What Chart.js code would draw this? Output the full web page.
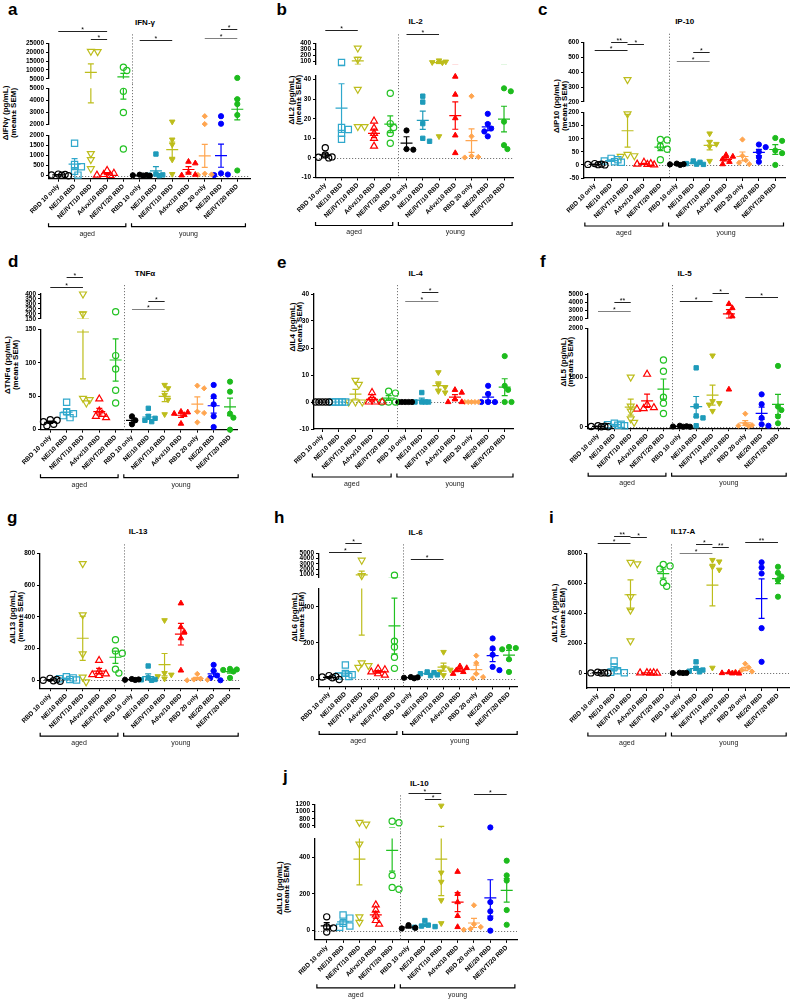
<!DOCTYPE html>
<html><head><meta charset="utf-8">
<script src="https://cdn.jsdelivr.net/npm/chart.js@4.4.1/dist/chart.umd.min.js"></script>
<style>
html,body{margin:0;padding:0;background:#fff;}
#page{position:relative;width:792px;height:1000px;overflow:hidden;background:#fff;font-family:"Liberation Sans",Arial,sans-serif;color:#000;}
#page canvas{position:absolute;}
.lt{position:absolute;font-weight:bold;font-size:17px;line-height:17px;}
.ti{position:absolute;font-weight:bold;font-size:8px;white-space:nowrap;transform:translate(-50%,-50%);}
.yt{position:absolute;font-weight:bold;font-size:8px;white-space:nowrap;transform:translate(-50%,-50%) rotate(-90deg);}
</style></head><body><div id="page"></div>
<script>
// ---------------- DATA ----------------
const categories = ['RBD 10 only','NE/10 RBD','NE/IVT/10 RBD','Advx/10 RBD','NE/IVT/20 RBD','RBD 10 only','NE/10 RBD','NE/IVT/10 RBD','Advx/10 RBD','RBD 20 only','NE/20 RBD','NE/IVT/20 RBD'];
const ageGroups = ['aged','young'];

const ifngValues = [[20,60,0,40,80],[1620,560,450,220,30],[20500,20300,1100,800,350],[260,120,60,30,10],[11500,9700,4750,3000,1330],
  [10,30,50,20,0],[1080,80,40,20,0],[2250,1800,1550,800,80],[700,620,150,50,20],[2700,2050,100,60,40],[2700,2080,120,60,30],[5500,4100,3700,2800,260]];
const il2Values = [[5.2,1.5,0.5,0,0.3],[75,15.5,14.5,12.5,9.5],[320,128,35,16,16],[18.8,15.2,12.5,10,6],[33,17.5,15.5,12.5,7.5],
  [14,4.5,4.2],[31.5,28.5,17.5,10,8.5],[110,90,80,75,11],[41.5,32.3,20.3,11.5,2.5],[31.5,11,1,0.5,0.2],[22.5,17.3,15,13.5,11],[35.5,34,18.5,6.5,4.5]];
const ip10Values = [[5,2,0,1,3],[25,20,15,10,12],[350,195,40,35,33],[10,5,3,0,2],[97,95,70,60,20],
  [5,3,2,0],[15,10,5,3,2],[120,88,80,70,15],[38,32,22,12,3],[97,35,18,8,3],[78,68,50,30,12],[103,92,55,45,0]];
const tnfValues = [[15,14,12,8,6],[41,27,24,21,18],[400,200,47,45,40],[46,28,23,20,18],[221,111,91,59,40],
  [20,14,8],[32,20,17,14,12],[67,62,52,45,23],[27,26,24,22,9],[66,62,27,25,11],[67,50,38,20,4],[72,57,24,18,0]];
const il4Values = [[0,0,0,0,0],[0,0,0,0,0],[8,6.5,0,0,0],[3.5,1.5,0,0,0],[4,3.3,0,0,0],
  [0,0,0,0,0],[3.5,0,0,0,0],[11,6.5,5.5,4,3.5],[4.5,3.5,1,0,0],[0,0,0,0,0],[6,3,0,0,0],[17,6,4.5,0,0]];
const il5Values = [[20,10,5,0,0],[70,50,40,30,20],[1010,420,320,160,90],[1070,450,390,370,360],[1360,1130,600,480,270],
  [20,10,5,0,0],[1200,420,220,180,20],[1450,520,480,450,320],[3800,3300,2800,2300,760],[265,60,30,20,10],[660,460,180,50,20],[1240,410,340,210,70]];
const il13Values = [[12,5,0,-3,-6],[22,15,10,5,2],[735,412,166,20,-10],[125,55,40,35,30],[255,185,170,70,45],
  [8,5,3,2],[90,15,5,3,0],[378,45,35,25,10],[485,335,305,265,62],[40,10,5,3,0],[97,60,30,15,0],[72,68,65,55,15]];
const il6Values = [[20,15,12,8,-2],[78,32,25,18,15],[3700,800,90,75,65],[58,52,40,30,22],[900,210,178,121,60],
  [12,10,8,5],[40,36,30,24,20],[150,65,52,42,22],[72,62,50,40,30],[130,90,30,12,5],[225,170,135,68,50],[178,172,165,110,40]];
const il17Values = [[50,20,0,0,10],[800,400,150,50,20],[7400,7300,5100,4200,2150],[30,20,10,0,-10],[7250,7150,6950,6050,5800],
  [20,10,0,0],[750,320,200,120,80],[7550,7450,7100,6900,350],[50,20,0,-20,-30],[620,380,200,100,50],[7400,7050,6650,3000,750],[7100,6700,6450,6200,5100]];
const il10Values = [[75,20,15,-8],[85,68,40,25,18],[700,650,470,75,45],[140,112,85,55,35],[730,690,300,235,225],
  [30,15,12],[55,30,25,22,18],[1160,315,265,165,40],[320,200,155,80,20],[138,35,20,10,5],[560,155,105,68,0],[380,300,272,112,32]];

// y tick labels per axis segment (top segment first)
const ifngTicks = [[5000,10000,15000,20000,25000],[2000,3000,4000,5000],[0,500,1000,1500,2000]];
const il2Ticks = [[100,200,300,400],[-10,0,10,20,30,40]];
const ip10Ticks = [[200,300,400,500,600],[-50,0,50,100,150,200]];
const tnfTicks = [[150,200,250,300,350,400],[0,50,100,150]];
const il4Ticks = [[-10,0,10,20,30,40]];
const il5Ticks = [[2000,3000,4000,5000],[0,1000,2000]];
const il13Ticks = [[0,200,400,600,800]];
const il6Ticks = [[1000,2000,3000,4000,5000],[0,200,400]];
const il17Ticks = [[0,2000,4000,6000,8000]];
const il10Ticks = [[600,800,1000,1200],[0,200,400]];

// significance comparisons [fromGroup, toGroup, label]
const ifngSig = [[0,3,'*'],[2,3,'*'],[5,7,'*'],[9,11,'*'],[10,11,'*']];
const il2Sig = [[0,2,'*'],[5,7,'*']];
const ip10Sig = [[1,2,'**'],[0,2,'*'],[2,3,'*'],[6,7,'*'],[5,7,'*']];
const tnfSig = [[1,2,'*'],[0,2,'*'],[6,7,'*'],[5,7,'*']];
const il4Sig = [[6,7,'*'],[5,7,'*']];
const il5Sig = [[1,2,'**'],[0,2,'*'],[5,7,'*'],[7,8,'*'],[9,11,'*']];
const il13Sig = [];
const il6Sig = [[1,2,'*'],[0,2,'*'],[5,7,'*']];
const il17Sig = [[1,2,'**'],[0,2,'*'],[2,3,'*'],[6,7,'*'],[7,8,'**'],[5,7,'*'],[9,11,'**']];
const il10Sig = [[5,7,'*'],[6,7,'*'],[9,11,'*']];

// ---------------- STYLE / LAYOUT ----------------
const F = '"Liberation Sans", Arial, sans-serif';
const ST = [
  {ps:'circle', r:3.1, fill:false, c:'#000000'},
  {ps:'rect', r:4.4, fill:false, c:'#30A8CC'},
  {ps:'triangle', rot:180, r:4.0, fill:false, c:'#BDBD1C'},
  {ps:'triangle', r:4.0, fill:false, c:'#FF0000'},
  {ps:'circle', r:3.1, fill:false, c:'#22C222'},
  {ps:'circle', r:2.6, fill:true, c:'#000000'},
  {ps:'rect', r:3.1, fill:true, c:'#1E9BBA'},
  {ps:'triangle', rot:180, r:3.2, fill:true, c:'#BDBD1C'},
  {ps:'triangle', r:3.2, fill:true, c:'#FF0000'},
  {ps:'rectRot', r:2.6, fill:true, c:'#FFA54F'},
  {ps:'circle', r:2.6, fill:true, c:'#0000FF'},
  {ps:'circle', r:2.6, fill:true, c:'#1DBB1D'}
];

const panels = [
 {id:'a', name:'IFN-γ', ylab:'ΔIFNγ (pg/mL)', values:ifngValues, ticks:ifngTicks, sig:ifngSig,
  top:0, x0:49, x1:250, c0:58.3, c11:237.3,
  segs:[{min:5000,max:25000,pt:43.3,pb:81},{min:2000,max:5000,pt:87.7,pb:126},{min:-150,max:2000,pt:133,pb:178.2}],
  letter:[8,0.6], title:[145,22], yt:[5.2,13,113], sigY:[31,39.3,40,37.7,29.3], sigGray:[0,0,0,1,0]},
 {id:'b', name:'IL-2', ylab:'ΔIL2 (pg/mL)', values:il2Values, ticks:il2Ticks, sig:il2Sig,
  top:0, x0:315.7, x1:513, c0:325, c11:504,
  segs:[{min:44,max:400,pt:43.3,pb:68.2},{min:-10,max:42,pt:72,pb:177.6}],
  letter:[276.5,0.6], title:[415.7,20.7], yt:[290.5,298,100], sigY:[30,34], sigGray:[0,0]},
 {id:'c', name:'IP-10', ylab:'ΔIP10 (pg/mL)', values:ip10Values, ticks:ip10Ticks, sig:ip10Sig,
  top:0, x0:584, x1:785, c0:594.7, c11:775.3,
  segs:[{min:200,max:600,pt:42.7,pb:104},{min:-50,max:200,pt:110,pb:178}],
  letter:[538,0.6], title:[684.7,20.7], yt:[556,563.5,105.7], sigY:[41.7,50,44.3,52,60.7], sigGray:[0,0,0,0,1]},
 {id:'d', name:'TNFα', ylab:'ΔTNFα (pg/mL)', values:tnfValues, ticks:tnfTicks, sig:tnfSig,
  top:258, x0:40.7, x1:237, c0:50, c11:230,
  segs:[{min:150,max:400,pt:294,pb:320},{min:0,max:150,pt:327.3,pb:429.3}],
  letter:[8,252.6], title:[145,273.3], yt:[7,14.5,365], sigY:[277,287,300.7,309.3], sigGray:[0,0,0,1]},
 {id:'e', name:'IL-4', ylab:'ΔIL4 (pg/mL)', values:il4Values, ticks:il4Ticks, sig:il4Sig,
  top:258, x0:314, x1:513, c0:322.3, c11:504.7,
  segs:[{min:-10,max:40,pt:294,pb:429}],
  letter:[277,253.6], title:[415.7,273.3], yt:[291.5,299,326.7], sigY:[292.3,300.7], sigGray:[0,1]},
 {id:'f', name:'IL-5', ylab:'ΔIL5 (pg/mL)', values:il5Values, ticks:il5Ticks, sig:il5Sig,
  top:258, x0:588, x1:789, c0:598, c11:778,
  segs:[{min:2000,max:5000,pt:294,pb:319.3},{min:-30,max:2000,pt:326.7,pb:428.2}],
  letter:[540,252.6], title:[684.7,273.3], yt:[562.5,570,361.7], sigY:[302.3,310.7,301,292.7,296.7], sigGray:[0,1,0,0,0]},
 {id:'g', name:'IL-13', ylab:'ΔIL13 (pg/mL)', values:il13Values, ticks:il13Ticks, sig:il13Sig,
  top:515, x0:40, x1:239, c0:50, c11:230,
  segs:[{min:-50,max:800,pt:553.3,pb:688.2}],
  letter:[7,508.6], title:[138,530.5], yt:[12,19.5,616.7], sigY:[], sigGray:[]},
 {id:'h', name:'IL-6', ylab:'ΔIL6 (pg/mL)', values:il6Values, ticks:il6Ticks, sig:il6Sig,
  top:515, x0:319, x1:517, c0:329, c11:509,
  segs:[{min:400,max:5000,pt:553.3,pb:579.4},{min:-40,max:500,pt:586.5,pb:686.4}],
  letter:[274,508.6], title:[415.7,531.7], yt:[293.5,301,616.7], sigY:[543.3,551.7,559.3], sigGray:[0,0,0]},
 {id:'i', name:'IL17-A', ylab:'ΔIL17A (pg/mL)', values:il17Values, ticks:il17Ticks, sig:il17Sig,
  top:515, x0:587.3, x1:789, c0:598, c11:778,
  segs:[{min:-1000,max:8000,pt:553.3,pb:688}],
  letter:[549,508.6], title:[683,531], yt:[554,561.5,613.3], sigY:[535.7,543.3,537.3,544.3,546.7,552.7,542.3], sigGray:[0,0,0,0,0,1,0]},
 {id:'j', name:'IL-10', ylab:'ΔIL10 (pg/mL)', values:il10Values, ticks:il10Ticks, sig:il10Sig,
  top:770, x0:315, x1:517, c0:326.7, c11:506.7,
  segs:[{min:550,max:1200,pt:804.3,pb:829.2},{min:-50,max:500,pt:837.7,pb:940.3}],
  letter:[283,767.6], title:[419.3,783.3], yt:[278.5,286,888.3], sigY:[793.3,799.3,794], sigGray:[0,0,0]}
];

// ---------------- HELPERS ----------------
function segIndex(P, v) {
  for (let k = 0; k < P.segs.length; k++) if (v >= P.segs[k].min && v <= P.segs[k].max) return k;
  return v > P.segs[0].max ? 0 : P.segs.length - 1;
}
function valPx(P, v) {
  const S = P.segs[segIndex(P, v)];
  return S.pt + (S.max - v) / (S.max - S.min) * (S.pb - S.pt);
}
function swarm(P, vals, u) {
  const py = vals.map(v => valPx(P, v));
  const order = py.map((y, i) => i).sort((a, b) => py[a] - py[b]);
  const placed = [], off = new Array(vals.length).fill(0);
  const D = 4.8, step = 3.4;
  order.forEach(i => {
    let best = 0, bestScore = -1;
    for (const k of [0, 1, -1, 2, -2, 3, -3]) {
      const ox = k * step;
      let minD = Infinity;
      placed.forEach(p => { const d = Math.hypot(p.x - ox, p.y - py[i]); if (d < minD) minD = d; });
      if (minD >= D) { best = ox; break; }
      if (minD > bestScore) { bestScore = minD; best = ox; }
    }
    placed.push({x: best, y: py[i]});
    off[i] = best / u;
  });
  return off;
}
function meanSem(vals) {
  const n = vals.length, m = vals.reduce((a, b) => a + b, 0) / n;
  const sd = Math.sqrt(vals.reduce((a, b) => a + (b - m) * (b - m), 0) / (n - 1));
  return [m, sd / Math.sqrt(n)];
}

function makeDeco(P, k, cTop, isTop, isBot) {
  return {
    id: 'deco',
    beforeDatasetsDraw(chart) {
      const ctx = chart.ctx, ca = chart.chartArea, xs = chart.scales.x, ys = chart.scales.y, S = P.segs[k];
      ctx.save();
      ctx.strokeStyle = '#777'; ctx.lineWidth = 1; ctx.setLineDash([1.2, 1.8]);
      const vx = Math.round(xs.getPixelForValue(4.5)) + 0.5;
      ctx.beginPath(); ctx.moveTo(vx, isTop ? ca.top - 9 : 0); ctx.lineTo(vx, isBot ? ca.bottom : chart.height); ctx.stroke();
      if (S.min < 0 && S.max > 0) {
        const zy = Math.round(ys.getPixelForValue(0)) + 0.5;
        ctx.beginPath(); ctx.moveTo(ca.left, zy); ctx.lineTo(ca.right, zy); ctx.stroke();
      }
      ctx.restore();
    },
    afterDatasetsDraw(chart) {
      const ctx = chart.ctx, ca = chart.chartArea, xs = chart.scales.x, ys = chart.scales.y;
      // mean ± SEM
      ctx.save();
      ctx.beginPath(); ctx.rect(ca.left - 20, ca.top, ca.right - ca.left + 40, ca.bottom - ca.top); ctx.clip();
      ctx.lineWidth = 1.2;
      P.values.forEach((vals, i) => {
        const [m, se] = meanSem(vals);
        const x = xs.getPixelForValue(i);
        const yM = ys.getPixelForValue(m), yH = ys.getPixelForValue(m + se), yL = ys.getPixelForValue(m - se);
        ctx.strokeStyle = ST[i].c;
        ctx.beginPath();
        ctx.moveTo(x - 6, yM); ctx.lineTo(x + 6, yM);
        ctx.moveTo(x, yH); ctx.lineTo(x, yL);
        ctx.moveTo(x - 3, yH); ctx.lineTo(x + 3, yH);
        ctx.moveTo(x - 3, yL); ctx.lineTo(x + 3, yL);
        ctx.stroke();
      });
      ctx.restore();
      ctx.save();
      ctx.fillStyle = '#000';
      if (isTop) {
        P.sig.forEach(([a, b, lab], j) => {
          const y = Math.round(P.sigY[j] - cTop) + 0.5;
          const xa = xs.getPixelForValue(a), xb = xs.getPixelForValue(b);
          ctx.strokeStyle = P.sigGray[j] ? '#808080' : '#222';
          ctx.lineWidth = 1;
          ctx.beginPath(); ctx.moveTo(xa, y); ctx.lineTo(xb, y); ctx.stroke();
          ctx.font = '7px ' + F; ctx.textAlign = 'center'; ctx.textBaseline = 'alphabetic';
          ctx.fillText(lab, (xa + xb) / 2, y + 0.5);
        });
      }
      if (isBot) {
        const yb = ca.bottom + 48;
        const spans = [[-0.6, 4.15], [4.5, 11.5]];
        ctx.strokeStyle = '#000'; ctx.lineWidth = 1.2;
        spans.forEach(([a, b], g) => {
          const xa = xs.getPixelForValue(a), xb = xs.getPixelForValue(b);
          ctx.beginPath(); ctx.moveTo(xa, yb - 3.5); ctx.lineTo(xa, yb); ctx.lineTo(xb, yb); ctx.lineTo(xb, yb - 3.5); ctx.stroke();
          ctx.font = '7px ' + F; ctx.textAlign = 'center'; ctx.textBaseline = 'middle'; ctx.fillStyle = '#222';
          ctx.fillText(ageGroups[g], (xa + xb) / 2, yb + 7);
        });
      }
      ctx.restore();
    }
  };
}

function addText(cls, txt, x, y) {
  const d = document.createElement('div'); d.className = cls; d.textContent = txt;
  d.style.left = x + 'px'; d.style.top = y + 'px';
  document.getElementById('page').appendChild(d);
}

function buildPanel(P) {
  const page = document.getElementById('page');
  addText('lt', P.id, P.letter[0], P.letter[1]);
  addText('ti', P.name, P.title[0], P.title[1]);
  addText('yt', P.ylab, P.yt[0], P.yt[2]);
  addText('yt', '(mean\u00B1 SEM)', P.yt[1], P.yt[2]);
  const u = (P.c11 - P.c0) / 11;
  const xmin = -(P.c0 - P.x0) / u, xmax = 11 + (P.x1 - P.c11) / u;
  const n = P.segs.length;
  const bounds = [P.top];
  for (let k = 0; k < n - 1; k++) bounds.push((P.segs[k].pb + P.segs[k + 1].pt) / 2);
  bounds.push(Math.min(P.segs[n - 1].pb + 62, 1000));
  const AXW = 40;
  const left = P.x0 - AXW, width = Math.round(P.x1 - left + 6);
  const offs = P.values.map(vals => swarm(P, vals, u));
  P.segs.forEach((S, k) => {
    const isTop = k === 0, isBot = k === n - 1;
    const top = bounds[k], h = Math.round(bounds[k + 1] - top);
    const cv = document.createElement('canvas');
    cv.width = width; cv.height = h;
    cv.style.left = left + 'px'; cv.style.top = top + 'px';
    cv.style.width = width + 'px'; cv.style.height = h + 'px';
    page.appendChild(cv);
    const padTop = S.pt - top;
    const padBot = isBot ? 0 : h - (S.pb - top);
    const xH = isBot ? h - (S.pb - top) : 0;
    const datasets = P.values.map((vals, i) => {
      const pts = [];
      vals.forEach((v, j) => { if (segIndex(P, v) === k) pts.push({x: i + offs[i][j], y: v}); });
      return {
        data: pts,
        pointStyle: ST[i].ps, rotation: ST[i].rot || 0,
        pointRadius: ST[i].r, pointHoverRadius: ST[i].r,
        borderColor: ST[i].c, backgroundColor: ST[i].fill ? ST[i].c : 'rgba(0,0,0,0)',
        borderWidth: ST[i].fill ? 1 : 1.2, clip: false
      };
    });
    new Chart(cv, {
      type: 'scatter',
      data: {datasets},
      options: {
        responsive: false, animation: false, devicePixelRatio: 1, events: [],
        layout: {padding: {top: padTop, bottom: padBot, left: 0, right: 6}},
        plugins: {legend: {display: false}, tooltip: {enabled: false}},
        scales: {
          x: {
            type: 'linear', min: xmin, max: xmax, display: isBot,
            afterBuildTicks: s => { s.ticks = categories.map((c, i) => ({value: i})); },
            afterFit: s => { s.height = xH; s.paddingLeft = 0; s.paddingRight = 0; },
            ticks: {autoSkip: false, maxRotation: 45, minRotation: 45, padding: 1, color: '#000',
                    font: {family: F, size: 6.5, weight: 'bold'}, callback: (v, i) => categories[i]},
            grid: {display: true, drawOnChartArea: false, drawTicks: true, tickLength: 3, color: '#000', lineWidth: 1},
            border: {display: true, color: '#000', width: 1.3}
          },
          y: {
            type: 'linear', min: S.min, max: S.max,
            afterBuildTicks: s => { s.ticks = P.ticks[k].map(v => ({value: v})); },
            afterFit: s => { s.width = AXW; s.paddingTop = 0; s.paddingBottom = 0; },
            ticks: {autoSkip: false, padding: 2, color: '#000', font: {family: F, size: 6.5, weight: 'bold'}, callback: v => String(v)},
            grid: {display: true, drawOnChartArea: false, drawTicks: true, tickLength: 3, color: '#000', lineWidth: 1},
            border: {display: true, color: '#000', width: 1.3}
          }
        }
      },
      plugins: [makeDeco(P, k, top, isTop, isBot)]
    });
  });
}

panels.forEach(buildPanel);
</script>
</body></html>
